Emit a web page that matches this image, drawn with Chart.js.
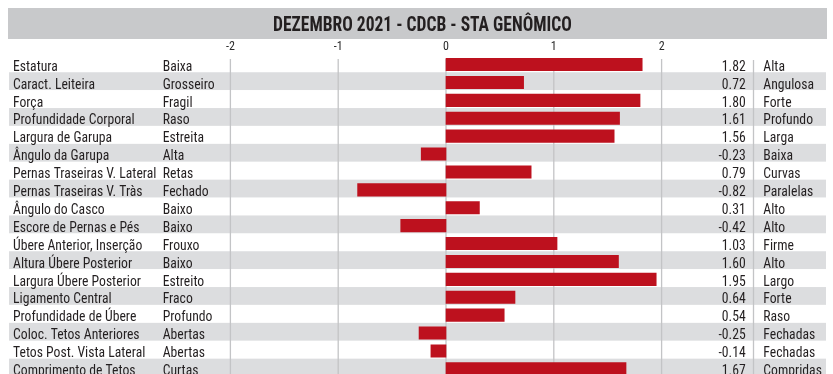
<!DOCTYPE html>
<html>
<head>
<meta charset="utf-8">
<script src="https://cdn.jsdelivr.net/npm/chart.js@4/dist/chart.umd.min.js"></script>
<style>
  html, body { margin: 0; padding: 0; background: #ffffff; overflow: hidden; }
  #wrap { width: 833px; height: 374px; overflow: hidden; }
  canvas { display: block; }
</style>
</head>
<body>
<div id="wrap"><canvas id="chart" width="833" height="380"></canvas></div>
<script>
// Linear type traits, December 2021 genomic evaluation
const chartTitle = 'DEZEMBRO 2021 - CDCB - STA GENÔMICO';
const traits = [
  'Estatura', 'Caract. Leiteira', 'Força', 'Profundidade Corporal',
  'Largura de Garupa', 'Ângulo da Garupa', 'Pernas Traseiras V. Lateral',
  'Pernas Traseiras V. Tràs', 'Ângulo do Casco', 'Escore de Pernas e Pés',
  'Úbere Anterior, Inserção', 'Altura Úbere Posterior', 'Largura Úbere Posterior',
  'Ligamento Central', 'Profundidade de Úbere', 'Coloc. Tetos Anteriores',
  'Tetos Post. Vista Lateral', 'Comprimento de Tetos'
];
const lowLabels = [
  'Baixa', 'Grosseiro', 'Fragil', 'Raso', 'Estreita', 'Alta', 'Retas',
  'Fechado', 'Baixo', 'Baixo', 'Frouxo', 'Baixo', 'Estreito', 'Fraco',
  'Profundo', 'Abertas', 'Abertas', 'Curtas'
];
const values = [
  1.82, 0.72, 1.80, 1.61, 1.56, -0.23, 0.79, -0.82, 0.31,
  -0.42, 1.03, 1.60, 1.95, 0.64, 0.54, -0.25, -0.14, 1.67
];
const highLabels = [
  'Alta', 'Angulosa', 'Forte', 'Profundo', 'Larga', 'Baixa', 'Curvas',
  'Paralelas', 'Alto', 'Alto', 'Firme', 'Alto', 'Largo', 'Forte', 'Raso',
  'Fechadas', 'Fechadas', 'Compridas'
];
const tickValues = [-2, -1, 0, 1, 2];

const FONT = '"Liberation Sans Narrow", "Roboto Condensed", "DejaVu Sans Condensed", "Liberation Sans", sans-serif';
const TEXT = '#231f20';
const BAR = '#bd111e';
const STRIPE = '#dcdddf';
const BAND = '#c8c9cb';
const RULE = '#c3c4c6';

// Narrow text: draw with a horizontal squeeze so that the condensed look holds
function squeezeFor(ctx, font, sample, width) {
  ctx.save();
  ctx.font = font;
  const w = ctx.measureText(sample).width;
  ctx.restore();
  return w > 0 ? width / w : 1;
}
function drawText(ctx, text, x, y, align, sx) {
  ctx.save();
  ctx.translate(x, y);
  ctx.scale(sx, 1);
  ctx.textAlign = align;
  ctx.textBaseline = 'alphabetic';
  ctx.fillText(text, 0, 0);
  ctx.restore();
}

const tablePlugin = {
  id: 'traitTable',
  beforeDraw(chart) {
    const ctx = chart.ctx;
    const x = chart.scales.x, y = chart.scales.y;
    ctx.save();
    // title band
    ctx.fillStyle = BAND;
    ctx.fillRect(8, 8, 819, 31);
    // alternating row stripes
    ctx.fillStyle = STRIPE;
    traits.forEach((t, i) => {
      if (i % 2 === 1) {
        const c = y.getPixelForValue(i);
        ctx.fillRect(9, c - 10.2, 817, 17.8);
      }
    });
    // vertical rules
    ctx.strokeStyle = RULE;
    ctx.lineWidth = 1.3;
    const top = 59;
    tickValues.forEach(v => {
      const px = x.getPixelForValue(v);
      ctx.beginPath();
      ctx.moveTo(px, top);
      ctx.lineTo(px, chart.height);
      ctx.stroke();
    });
    ctx.beginPath();
    ctx.moveTo(753.5, 60);
    ctx.lineTo(753.5, chart.height);
    ctx.stroke();
    ctx.restore();
  },
  afterDraw(chart) {
    const ctx = chart.ctx;
    const y = chart.scales.y;
    ctx.save();
    ctx.fillStyle = TEXT;
    // title
    const titleFont = 'bold 20px ' + FONT;
    const tsx = squeezeFor(ctx, titleFont, chartTitle, 298.7);
    ctx.font = titleFont;
    drawText(ctx, chartTitle, 422.4, 30.7, 'center', tsx);
    // table text
    const labelFont = '15.5px ' + FONT;
    const sx = squeezeFor(ctx, labelFont, 'Pernas Traseiras V. Lateral', 143.4);
    ctx.font = labelFont;
    traits.forEach((t, i) => {
      const base = y.getPixelForValue(i) + 6.2;
      drawText(ctx, t, 13, base, 'left', sx);
      drawText(ctx, lowLabels[i], 162.7, base, 'left', sx);
      drawText(ctx, values[i].toFixed(2), 745.7, base, 'right', sx);
      drawText(ctx, highLabels[i], 763.3, base, 'left', sx);
    });
    ctx.restore();
  }
};

new Chart(document.getElementById('chart'), {
  type: 'bar',
  data: {
    labels: traits,
    datasets: [{
      data: values,
      backgroundColor: BAR,
      borderWidth: 0,
      barThickness: 12.4
    }]
  },
  options: {
    indexAxis: 'y',
    responsive: false,
    animation: false,
    devicePixelRatio: 1,
    layout: { padding: { left: 230.4, right: 171.4, top: 0, bottom: 2.2 } },
    plugins: {
      legend: { display: false },
      tooltip: { enabled: false },
      title: { display: false }
    },
    scales: {
      x: {
        type: 'linear',
        position: 'top',
        min: -2,
        max: 2,
        afterBuildTicks: (scale) => { scale.ticks = tickValues.map(v => ({ value: v })); },
        afterFit: (scale) => { scale.height = 55.6; },
        grid: { display: false, drawTicks: false },
        border: { display: false },
        ticks: {
          padding: 1.0,
          color: '#2a2a2a',
          font: { family: FONT, size: 12 },
          callback: (v) => String(v)
        }
      },
      y: {
        type: 'category',
        display: false,
        offset: true,
        grid: { display: false }
      }
    }
  },
  plugins: [tablePlugin]
});
</script>
</body>
</html>
